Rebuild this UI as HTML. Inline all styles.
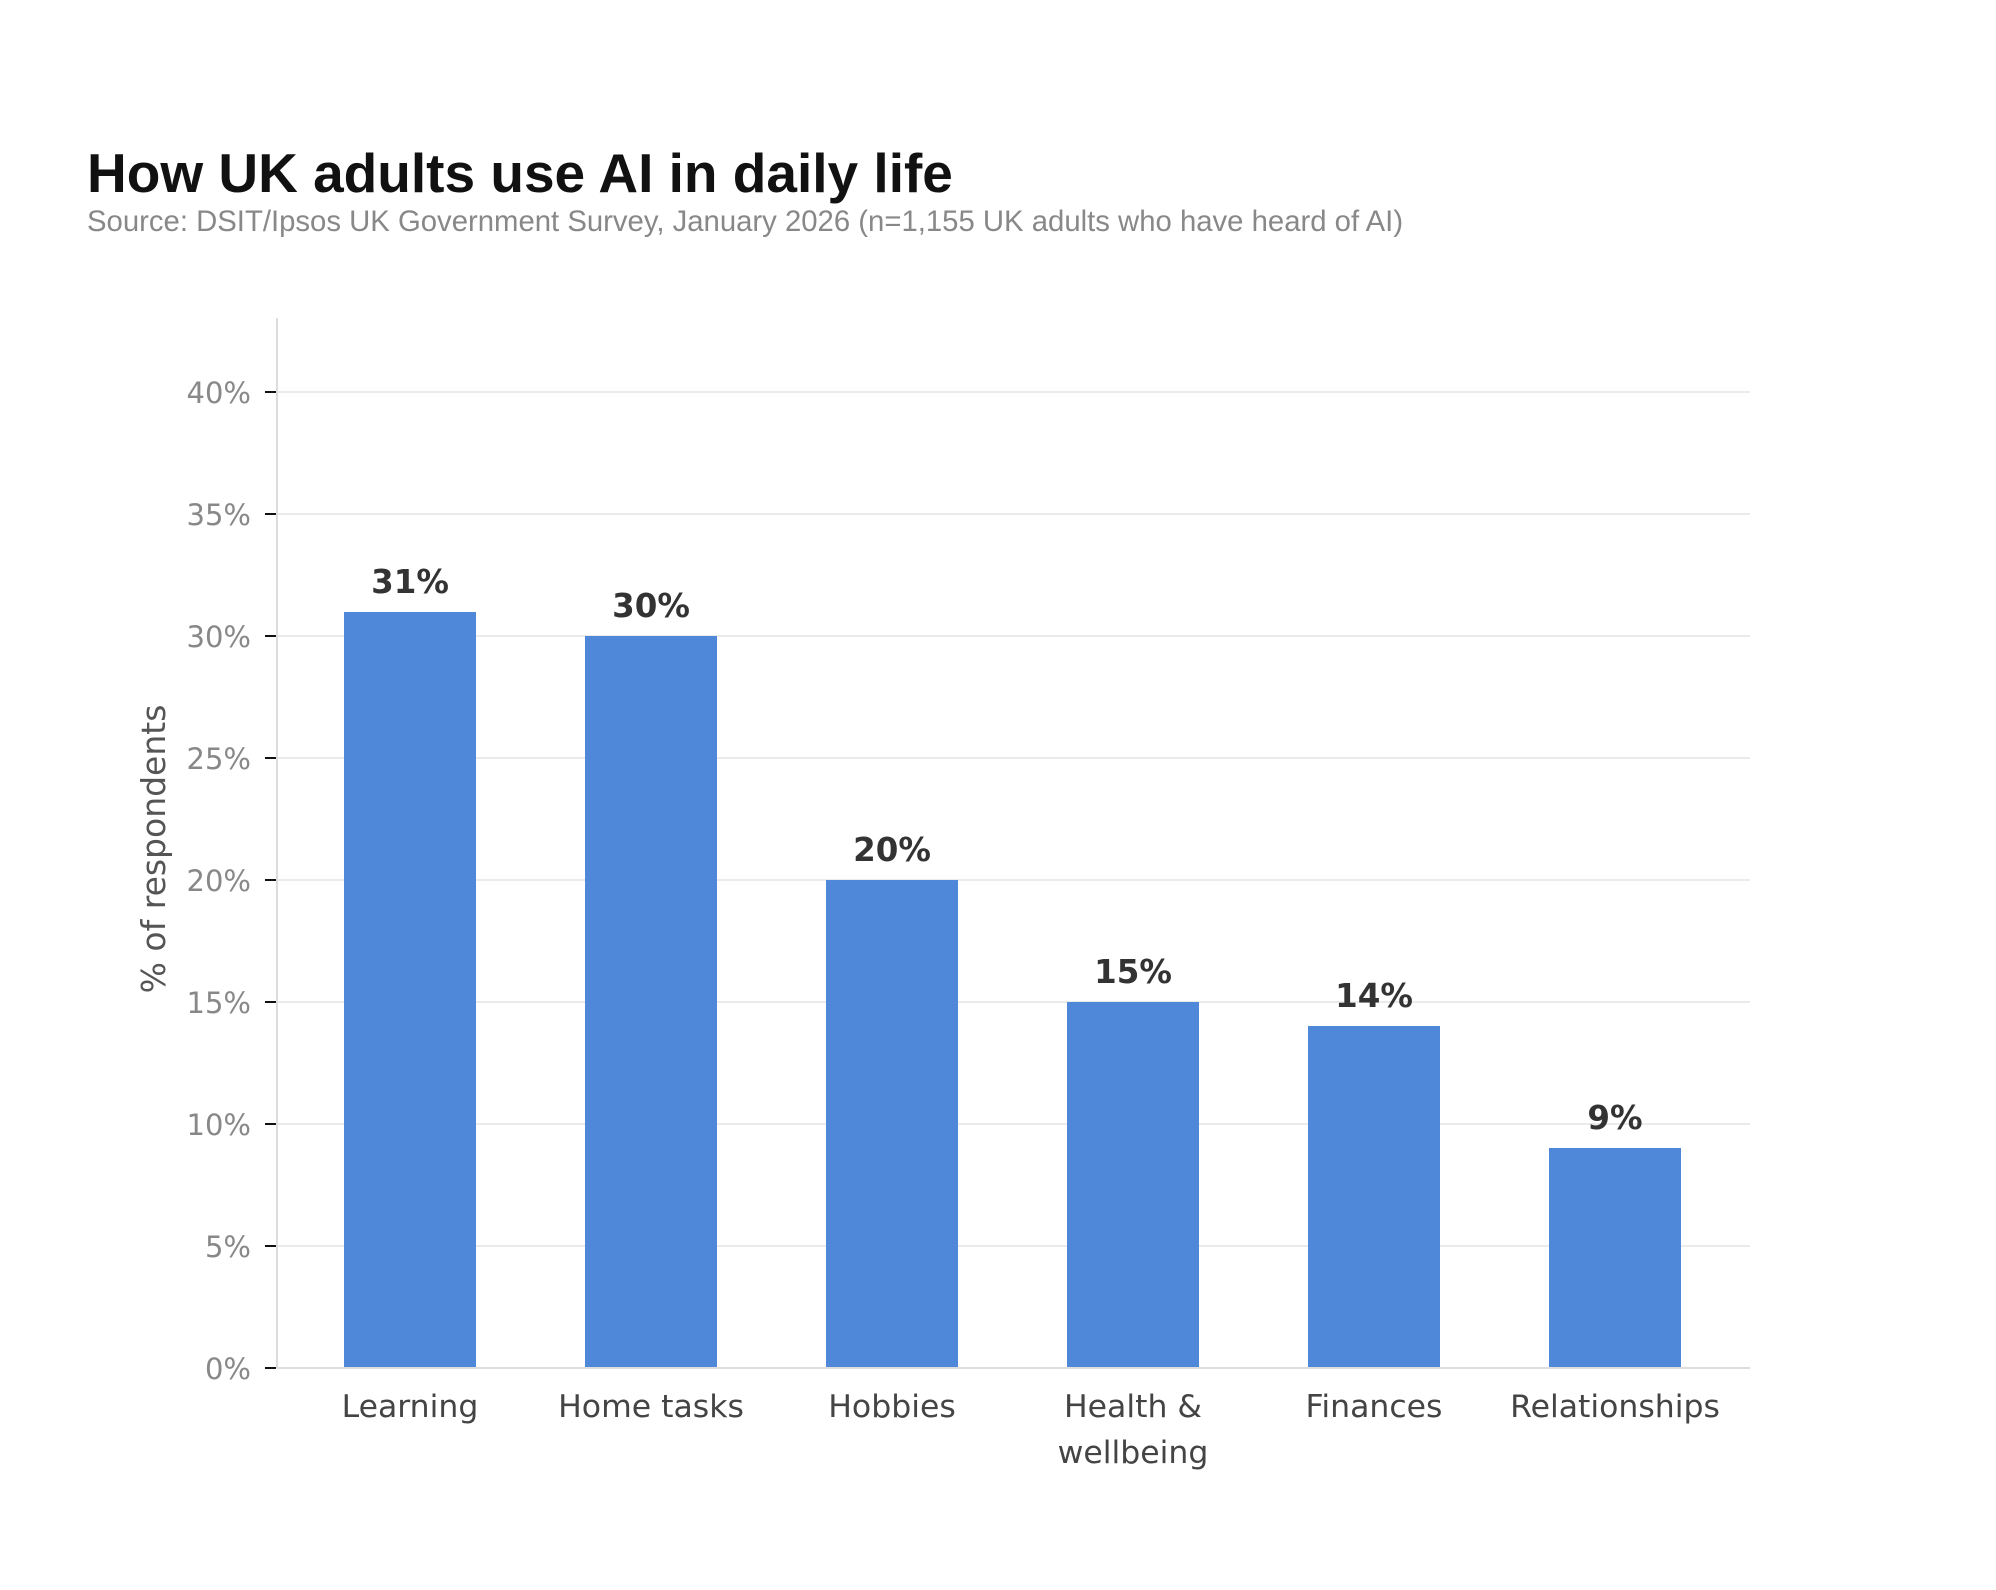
<!DOCTYPE html>
<html><head><meta charset="utf-8"><style>
body{margin:0;background:#fff;}
svg{display:block;}
</style></head><body>
<svg width="1996" height="1590" xmlns="http://www.w3.org/2000/svg">
<rect width="1996" height="1590" fill="#fff"/>
<text x="87" y="192" font-family="Liberation Sans, sans-serif" font-weight="bold" font-size="55" fill="#111">How UK adults use AI in daily life</text>
<text x="87" y="231" font-family="Liberation Sans, sans-serif" font-size="29.3" fill="#888">Source: DSIT/Ipsos UK Government Survey, January 2026 (n=1,155 UK adults who have heard of AI)</text>
<g stroke="#ebebeb" stroke-width="2">
<line x1="277" x2="1750" y1="1246" y2="1246"/>
<line x1="277" x2="1750" y1="1124" y2="1124"/>
<line x1="277" x2="1750" y1="1002" y2="1002"/>
<line x1="277" x2="1750" y1="880" y2="880"/>
<line x1="277" x2="1750" y1="758" y2="758"/>
<line x1="277" x2="1750" y1="636" y2="636"/>
<line x1="277" x2="1750" y1="514" y2="514"/>
<line x1="277" x2="1750" y1="392" y2="392"/>
</g>
<line x1="277" x2="277" y1="318" y2="1368" stroke="#ddd" stroke-width="2"/>
<g fill="#4f88d8">
<rect x="344" y="612" width="132" height="756"/>
<rect x="585" y="636" width="132" height="732"/>
<rect x="826" y="880" width="132" height="488"/>
<rect x="1067" y="1002" width="132" height="366"/>
<rect x="1308" y="1026" width="132" height="342"/>
<rect x="1549" y="1148" width="132" height="220"/>
</g>
<line x1="277" x2="1750" y1="1368" y2="1368" stroke="#ddd" stroke-width="2"/>
<g stroke="#111" stroke-width="2">
<line x1="265" x2="276" y1="1368" y2="1368"/><line x1="265" x2="276" y1="1246" y2="1246"/>
<line x1="265" x2="276" y1="1124" y2="1124"/><line x1="265" x2="276" y1="1002" y2="1002"/>
<line x1="265" x2="276" y1="880" y2="880"/><line x1="265" x2="276" y1="758" y2="758"/>
<line x1="265" x2="276" y1="636" y2="636"/><line x1="265" x2="276" y1="514" y2="514"/>
<line x1="265" x2="276" y1="392" y2="392"/>
</g>
<g font-family="DejaVu Sans, sans-serif" font-size="29" fill="#888" text-anchor="end">
<text x="251" y="1379">0%</text><text x="251" y="1257">5%</text>
<text x="251" y="1135">10%</text><text x="251" y="1013">15%</text>
<text x="251" y="891">20%</text><text x="251" y="769">25%</text>
<text x="251" y="647">30%</text><text x="251" y="525">35%</text>
<text x="251" y="403">40%</text>
</g>
<text transform="translate(165,849) rotate(-90)" font-family="DejaVu Sans, sans-serif" font-size="33" fill="#555" text-anchor="middle">% of respondents</text>
<g font-family="DejaVu Sans, sans-serif" font-weight="bold" font-size="32.5" fill="#333" text-anchor="middle">
<text x="410" y="593">31%</text><text x="651" y="617">30%</text>
<text x="892" y="861">20%</text><text x="1133" y="983">15%</text>
<text x="1374" y="1007">14%</text><text x="1615" y="1129">9%</text>
</g>
<g font-family="DejaVu Sans, sans-serif" font-size="31.5" fill="#444" text-anchor="middle">
<text x="410" y="1417">Learning</text><text x="651" y="1417">Home tasks</text>
<text x="892" y="1417">Hobbies</text><text x="1133" y="1417">Health &amp;</text>
<text x="1133" y="1463">wellbeing</text><text x="1374" y="1417">Finances</text>
<text x="1615" y="1417">Relationships</text>
</g>
</svg>
</body></html>
